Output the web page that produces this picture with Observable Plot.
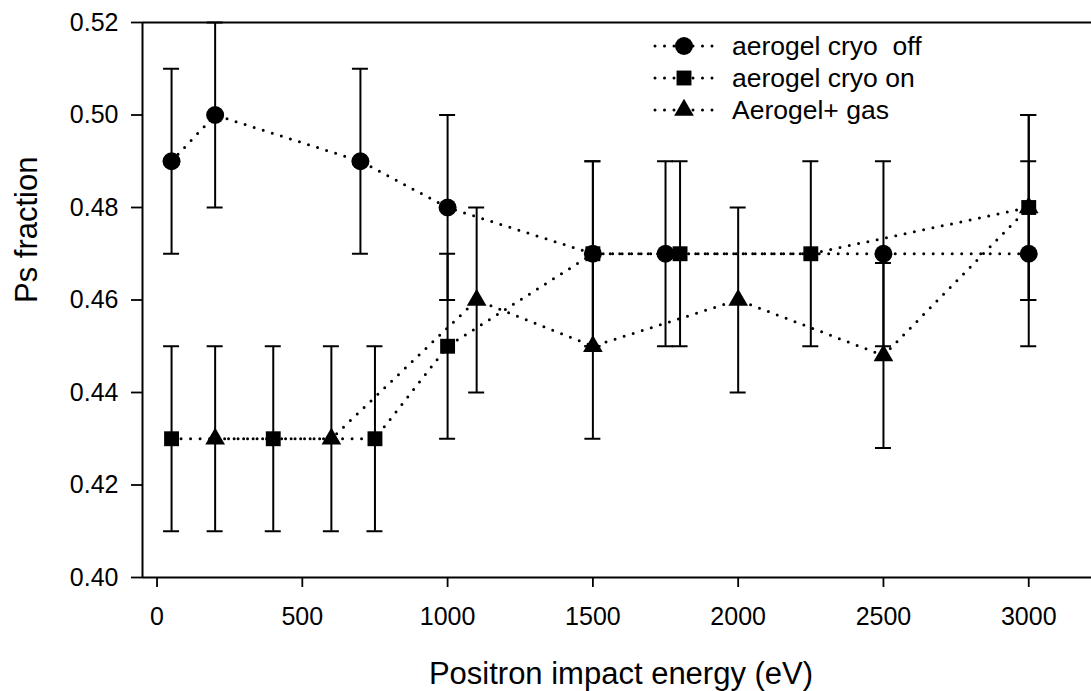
<!DOCTYPE html>
<html>
<head>
<meta charset="utf-8">
<script src="https://cdn.jsdelivr.net/npm/d3@7"></script>
<script src="https://cdn.jsdelivr.net/npm/@observablehq/plot@0.6"></script>
<style>
  html, body { margin: 0; padding: 0; background: #fff; }
  #wrap { position: relative; width: 1091px; height: 691px; overflow: hidden; }
  #legend { position: absolute; left: 653px; top: 30px; font-family: "Liberation Sans", Arial, sans-serif; font-size: 26.5px; color: #000; }
  .row { display: flex; align-items: center; height: 32px; white-space: pre; }
  .row svg { width: 62px; height: 32px; margin-right: 17px; flex: none; }
</style>
</head>
<body>
<div id="wrap"><div id="legend"></div></div>
<script>
// ---- Data ----
const seriesNames = ["aerogel cryo  off", "aerogel cryo on", "Aerogel+ gas"];
const seriesSymbols = ["circle", "square", "triangle"];

const offEnergy = [50, 200, 700, 1000, 1500, 1750, 2500, 3000];
const offFrac   = [0.49, 0.50, 0.49, 0.48, 0.47, 0.47, 0.47, 0.47];
const offLow    = [0.47, 0.48, 0.47, 0.46, 0.45, 0.45, 0.45, 0.45];
const offHigh   = [0.51, 0.52, 0.51, 0.50, 0.49, 0.49, 0.49, 0.49];

const onEnergy = [50, 400, 750, 1000, 1500, 1800, 2250, 3000];
const onFrac   = [0.43, 0.43, 0.43, 0.45, 0.47, 0.47, 0.47, 0.48];
const onLow    = [0.41, 0.41, 0.41, 0.43, 0.45, 0.45, 0.45, 0.46];
const onHigh   = [0.45, 0.45, 0.45, 0.47, 0.49, 0.49, 0.49, 0.50];

const gasEnergy = [200, 600, 1100, 1500, 2000, 2500, 3000];
const gasFrac   = [0.43, 0.43, 0.46, 0.45, 0.46, 0.448, 0.48];
const gasLow    = [0.41, 0.41, 0.44, 0.43, 0.44, 0.428, 0.46];
const gasHigh   = [0.45, 0.45, 0.48, 0.47, 0.48, 0.468, 0.50];

const xTicks = [0, 500, 1000, 1500, 2000, 2500, 3000];
const yTicks = [0.40, 0.42, 0.44, 0.46, 0.48, 0.50, 0.52];
const xDomain = [-50, 3216];
const yDomain = [0.40, 0.52];
const xTitle = "Positron impact energy (eV)";
const yTitle = "Ps fraction";

// ---- Build table ----
function build(name, E, F, L, H) {
  return E.map((e, i) => ({series: name, energy: e, frac: F[i], low: L[i], high: H[i]}));
}
const sets = [
  build(seriesNames[0], offEnergy, offFrac, offLow, offHigh),
  build(seriesNames[1], onEnergy, onFrac, onLow, onHigh),
  build(seriesNames[2], gasEnergy, gasFrac, gasLow, gasHigh)
];
const rows = sets.flat();
const symbolR = {circle: 9, square: 8.4, triangle: 7.3};

const dotted = {stroke: "black", strokeWidth: 3, strokeDasharray: "0,9.5", strokeLinecap: "round"};
const barW = 2;
const tickFont = 25;

const fmtX = d3.format("d");
const fmtY = d3.format(".2f");

const chart = Plot.plot({
  width: 1091,
  height: 691,
  marginLeft: 142,
  marginRight: 0,
  marginTop: 22,
  marginBottom: 114,
  style: {fontFamily: "'Liberation Sans', Arial, sans-serif", fontSize: tickFont + "px", color: "black", background: "white", overflow: "visible"},
  x: {domain: xDomain},
  y: {domain: yDomain},
  marks: [
    // dotted connecting lines
    ...sets.map(s => Plot.line(s, {x: "energy", y: "frac", ...dotted})),
    // error bars
    Plot.ruleX(rows, {x: "energy", y1: "low", y2: "high", stroke: "black", strokeWidth: barW}),
    Plot.ruleY(rows, {x1: "energy", x2: "energy", y: "low", insetLeft: -8, insetRight: -8, stroke: "black", strokeWidth: barW}),
    Plot.ruleY(rows, {x1: "energy", x2: "energy", y: "high", insetLeft: -8, insetRight: -8, stroke: "black", strokeWidth: barW}),
    // markers
    ...sets.map((s, k) => Plot.dot(s, {x: "energy", y: "frac", symbol: seriesSymbols[k], r: symbolR[seriesSymbols[k]], fill: "black", stroke: "none"})),
    // frame lines
    Plot.ruleX([xDomain[0]], {stroke: "black", strokeWidth: 2}),
    Plot.ruleY(yDomain, {stroke: "black", strokeWidth: 2}),
    // axes
    Plot.axisX({ticks: xTicks, tickSize: 10, tickPadding: 20, fontSize: tickFont, strokeWidth: 1.8, label: null, tickFormat: fmtX}),
    Plot.axisY({ticks: yTicks, tickSize: 11, tickPadding: 13, fontSize: tickFont, strokeWidth: 1.8, label: null, tickFormat: fmtY}),
    // axis titles
    Plot.text([xTitle], {text: d => d, frameAnchor: "bottom", lineAnchor: "bottom", dy: 106, dx: 4, fontSize: 31, fill: "black"}),
    Plot.text([yTitle], {text: d => d, frameAnchor: "left", lineAnchor: "bottom", rotate: -90, dx: -106, dy: 3, fontSize: 31, fill: "black"})
  ]
});
document.getElementById("wrap").prepend(chart);

// make sure tick labels get the intended size
const tickStrings = new Set([...xTicks.map(fmtX), ...yTicks.map(fmtY)]);
chart.querySelectorAll("text").forEach(t => {
  if (tickStrings.has(t.textContent.trim())) t.style.fontSize = tickFont + "px";
});
chart.querySelectorAll('g[aria-label$="tick label"]').forEach(g => g.style.fontSize = tickFont + "px");

// ---- Legend ----
const legend = document.getElementById("legend");
seriesNames.forEach((name, k) => {
  const row = document.createElement("div");
  row.className = "row";
  const sym = seriesSymbols[k];
  const r = symbolR[sym];
  const dsym = d3.symbol(sym === "circle" ? d3.symbolCircle : sym === "square" ? d3.symbolSquare : d3.symbolTriangle, r * r * Math.PI)();
  row.innerHTML = `<svg viewBox="0 0 62 32"><line x1="2" x2="60" y1="16" y2="16" stroke="black" stroke-width="3" stroke-dasharray="0,9.5" stroke-linecap="round"/><path d="${dsym}" transform="translate(31,16)" fill="black"/></svg><span></span>`;
  row.querySelector("span").textContent = name;
  legend.appendChild(row);
});
</script>
</body>
</html>
